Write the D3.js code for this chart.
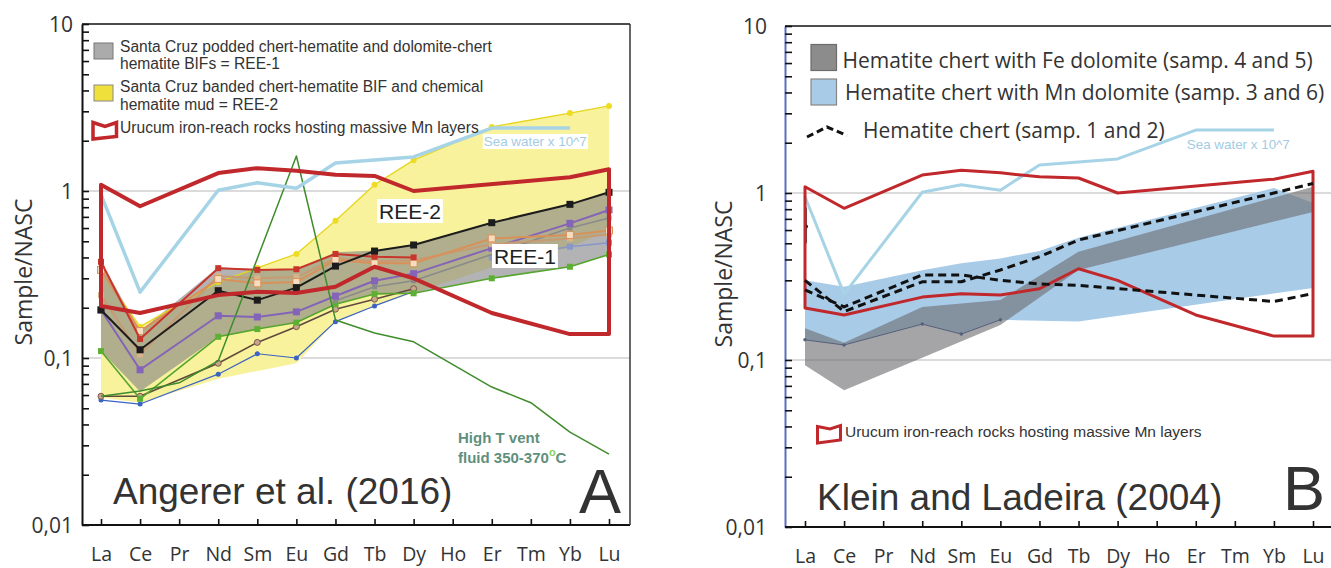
<!DOCTYPE html>
<html><head><meta charset="utf-8">
<script src="https://cdn.jsdelivr.net/npm/d3@7"></script>
<style>body{margin:0;background:#fff}svg{display:block}</style>
</head><body>
<svg id="c" width="1331" height="568"></svg>
<script>
// ---------------- DATA ----------------
const elements = ["La","Ce","Pr","Nd","Sm","Eu","Gd","Tb","Dy","Ho","Er","Tm","Yb","Lu"];
const yMajorTicks = [0.01, 0.1, 1, 10];
const yTickLabels = ["0,01", "0,1", "1", "10"];
const yMinorFactors = [2,3,4,5,6,7,8,9];

// shared (both panels)
const urucumUpper = [1.09, 0.81, null, 1.28, 1.37, 1.32, 1.25, 1.23, 1.0, null, null, null, 1.21, 1.35];
const urucumLower = [0.205, 0.186, null, 0.238, 0.249, 0.245, 0.267, 0.352, 0.30, null, 0.186, null, 0.139, 0.139];
const seaWater    = [0.95, 0.248, null, 1.01, 1.12, 1.04, 1.47, null, 1.6, null, 2.38, null, 2.38, null];

// panel A
const ventFluid = [0.059, 0.0635, 0.071, 0.096, null, 1.62, 0.169, 0.141, 0.125, null, 0.067, 0.054, 0.036, 0.0266];
const ree2Upper = [0.33, 0.154, null, 0.285, 0.346, 0.42, 0.664, 1.09, 1.53, null, 2.42, null, 2.93, 3.23];
const ree2Lower = [0.058, 0.054, null, 0.075, null, 0.093, 0.165, 0.205, 0.245, null, 0.35, null, 0.46, 0.58];
const ree1Upper = [0.38, 0.145, null, 0.35, 0.34, 0.34, 0.43, 0.44, 0.48, null, 0.646, null, 0.84, 0.99];
const ree1Lower = [0.11, 0.063, null, 0.134, 0.149, 0.163, 0.21, 0.242, 0.244, null, 0.30, null, 0.352, 0.417];
const sampleRed    = [0.377, 0.13, null, 0.345, 0.337, 0.34, 0.42, 0.404, 0.40, null, null, null, null, null];
const sampleOrange = [0.337, 0.145, null, 0.297, 0.28, 0.285, 0.386, 0.369, 0.369, null, 0.52, null, 0.545, 0.58];
const sampleTan    = [0.238, 0.105, null, 0.31, 0.30, 0.305, 0.395, 0.38, 0.385, null, 0.48, null, 0.52, 0.55];
const sampleBlack  = [0.194, 0.112, null, 0.253, 0.222, 0.264, 0.355, 0.437, 0.475, null, 0.646, null, 0.832, 0.982];
const samplePurple = [0.194, 0.085, null, 0.179, 0.176, 0.189, 0.235, 0.29, 0.32, null, 0.455, null, 0.64, 0.77];
const sampleGray   = [null, null, null, null, null, null, 0.22, 0.267, 0.29, null, null, null, 0.60, 0.69];
const sampleLilac  = [null, null, null, null, null, null, null, null, null, null, 0.40, null, 0.464, 0.49];
const sampleGreen  = [0.110, 0.057, null, 0.134, 0.149, 0.163, 0.21, 0.242, 0.244, null, 0.30, null, 0.352, 0.417];
const sampleBrown  = [0.059, 0.059, null, 0.093, 0.124, 0.154, 0.196, 0.225, 0.26, null, null, null, null, null];
const sampleBlue   = [0.056, 0.053, null, 0.080, 0.106, 0.100, 0.165, 0.205, 0.25, null, null, null, null, null];

// panel B
const feDolUpper  = [0.155, 0.127, null, 0.208, null, 0.229, null, 0.445, null, null, null, null, null, 1.09];
const feDolLower  = [0.093, 0.066, null, 0.103, null, 0.162, null, 0.346, null, null, null, null, null, 0.77];
const mnDolUpper  = [0.30, 0.275, null, 0.345, 0.38, 0.405, 0.45, 0.54, null, null, null, null, 1.07, 0.87];
const mnDolLower  = [0.132, 0.123, null, 0.164, 0.143, 0.174, null, 0.17, null, null, null, null, null, 0.27];
const feDolSample = [0.132, 0.123, null, 0.164, 0.143, 0.174, null, null, null, null, null, null, null, null];
const chert1      = [0.30, 0.195, null, 0.294, 0.294, 0.346, 0.415, 0.523, null, null, null, null, 1.0, 1.14];
const chert2      = [0.263, 0.208, null, 0.323, 0.323, 0.30, 0.285, 0.28, null, null, null, null, 0.224, 0.25];
const laSpur      = [0.82, 0.5];
const laSpurDot   = [0.63];

// ---------------- DRAW ----------------
const svg = d3.select("#c");
const FA = "'Liberation Sans', Arial, sans-serif";
const FO = "'Open Sans', sans-serif";
const RED = "#c0282c", SEA = "#a6d4e6";

function makePanel(p) {
  const x = d3.scalePoint().domain(elements).range(p.xr);
  const y = d3.scaleLog().domain([0.01, 10]).range([p.bottom, p.top]);
  const g = svg.append("g");
  const pts = arr => arr.map((v, i) => v == null ? null : [x(elements[i]), y(v)]).filter(d => d);
  const line = d3.line();
  return Object.assign({x, y, g, pts, line}, p);
}

function band(P, up, lo, fill, opacity, stroke) {
  const d = P.line(P.pts(up).concat(P.pts(lo).reverse())) + "Z";
  P.g.append("path").attr("d", d).attr("fill", fill).attr("fill-opacity", opacity)
    .attr("stroke", stroke || "none").attr("stroke-width", 0.8);
}
function series(P, arr, color, width, dash) {
  P.g.append("path").attr("d", P.line(P.pts(arr))).attr("fill", "none")
    .attr("stroke", color).attr("stroke-width", width).attr("stroke-linejoin", "round")
    .attr("stroke-dasharray", dash || null);
}
function markers(P, arr, shape, size, fill, stroke) {
  const sel = P.g.append("g").selectAll("x").data(P.pts(arr)).enter();
  if (shape === "sq") {
    sel.append("rect").attr("x", d => d[0] - size/2).attr("y", d => d[1] - size/2)
      .attr("width", size).attr("height", size).attr("fill", fill).attr("stroke", stroke || "none").attr("stroke-width", 1);
  } else {
    sel.append("circle").attr("cx", d => d[0]).attr("cy", d => d[1]).attr("r", size/2)
      .attr("fill", fill).attr("stroke", stroke || "none").attr("stroke-width", 1);
  }
}
function grid(P) {
  [1, 0.1].forEach(v => P.g.append("line").attr("x1", P.left).attr("x2", P.right)
    .attr("y1", P.y(v)).attr("y2", P.y(v)).attr("stroke", "#cfcfcf").attr("stroke-width", 1.5));
}
function frame(P) {
  const g = P.g;
  const allTicks = [];
  yMajorTicks.forEach(v => allTicks.push(v));
  [0.01, 0.1, 1].forEach(dec => yMinorFactors.forEach(f => allTicks.push(dec * f)));
  const ya = d3.axisLeft(P.y).tickValues(allTicks).tickSizeInner(-7).tickSizeOuter(0)
    .tickPadding(P.labelGap)
    .tickFormat(v => { const i = yMajorTicks.findIndex(m => Math.abs(m - v) < v * 1e-6); return i >= 0 ? yTickLabels[i] : ""; });
  const gy = g.append("g").attr("transform", `translate(${P.left},0)`).call(ya);
  gy.select(".domain").attr("stroke", P.yAxisColor).attr("stroke-width", 2);
  gy.selectAll(".tick line").attr("stroke", "#111").attr("stroke-width", 1.6);
  gy.selectAll(".tick text").attr("font-family", FO).attr("font-size", 21).attr("fill", "#333").attr("dy", "0.37em");

  const xa = d3.axisBottom(P.x).tickSizeInner(-6).tickSizeOuter(0).tickPadding(22);
  const gx = g.append("g").attr("transform", `translate(0,${P.bottom})`).call(xa);
  gx.select(".domain").attr("d", `M${P.left},0H${P.right}`).attr("stroke", "#111").attr("stroke-width", 2);
  gx.selectAll(".tick line").attr("stroke", "#111").attr("stroke-width", 1.6);
  gx.selectAll(".tick text").attr("font-family", FO).attr("font-size", 19.5).attr("fill", "#333").attr("dy", "0.71em");

  g.append("line").attr("x1", P.left).attr("x2", P.right).attr("y1", P.top).attr("y2", P.top)
    .attr("stroke", "#111").attr("stroke-width", 1.5);
  if (P.rightBorder) g.append("line").attr("x1", P.right).attr("x2", P.right).attr("y1", P.top).attr("y2", P.bottom)
    .attr("stroke", "#333").attr("stroke-width", 1.5);

  g.append("text").attr("transform", `translate(${P.titleX},${P.titleY}) rotate(-90)`)
    .attr("text-anchor", "middle").attr("font-family", FO).attr("font-size", 23).attr("fill", "#333").text("Sample/NASC");
}
function seaLabel(P, tx, ty) {
  const t = P.g.append("text").attr("x", tx).attr("y", ty).attr("font-family", FA).attr("font-size", 13.4)
    .attr("fill", "#a3cbe3").text("Sea water x 10^7");
  const b = t.node().getBBox();
  P.g.insert("rect", () => t.node()).attr("x", b.x - 1).attr("y", b.y).attr("width", b.width + 2).attr("height", b.height).attr("fill", "#fff");
}
function urucumIcon(g, pts, w) {
  g.append("path").attr("d", d3.line()(pts) + "Z").attr("fill", "none").attr("stroke", RED).attr("stroke-width", w).attr("stroke-linejoin", "miter");
}

// ======== Panel A ========
const A = makePanel({xr: [101, 609], top: 24, bottom: 525, left: 82, right: 630, labelGap: 9,
  yAxisColor: "#111", rightBorder: true, titleX: 32, titleY: 272});
grid(A);
band(A, ree2Upper, ree2Lower, "#f8f29c", 1);
band(A, ree1Upper, ree1Lower, "#808084", 0.6);
series(A, ree2Upper, "#e6d51c", 1.3);
markers(A, ree2Upper, "ci", 6, "#eedc22");
const aSamples = [
  {v: sampleBlue, c: "#3b63c4", w: 1.2, m: "ci", s: 5, f: "#3b63c4"},
  {v: sampleBrown, c: "#5e4a3c", w: 1.6, m: "ci", s: 6, f: "#c9a58c", st: "#7a5a48"},
  {v: sampleGreen, c: "#55a52e", w: 1.6, m: "sq", s: 6, f: "#5cb032"},
  {v: sampleLilac, c: "#8797c9", w: 1.6, m: "sq", s: 6, f: "#8797c9"},
  {v: sampleGray, c: "#8a8a8a", w: 1.6, m: "sq", s: 5, f: "#8a8a8a"},
  {v: samplePurple, c: "#8464b8", w: 2, m: "sq", s: 7, f: "#8464b8"},
  {v: sampleTan, c: "#c89a72", w: 2, m: "sq", s: 6, f: "#d9b48a"},
  {v: sampleOrange, c: "#d9915a", w: 2, m: "sq", s: 7, f: "#f4ddc0", st: "#d9915a"},
  {v: sampleRed, c: "#c8352b", w: 2, m: "sq", s: 6, f: "#c8352b"},
  {v: sampleBlack, c: "#1c1c1c", w: 2, m: "sq", s: 7, f: "#1c1c1c"}
];
aSamples.forEach(s => { series(A, s.v, s.c, s.w); markers(A, s.v, s.m, s.s, s.f, s.st); });
series(A, ventFluid, "#3e8c2c", 1.5);
series(A, seaWater, SEA, 3.5);
A.g.append("path").attr("d", A.line(A.pts(urucumUpper).concat(A.pts(urucumLower).reverse())) + "Z")
  .attr("fill", "none").attr("stroke", RED).attr("stroke-width", 4).attr("stroke-linejoin", "round");
seaLabel(A, A.x("Er") - 8, 146);
frame(A);

function boxLabel(P, txt, tx, ty) {
  const t = P.g.append("text").attr("x", tx).attr("y", ty).attr("font-family", FA).attr("font-size", 21)
    .attr("fill", "#222").text(txt);
  const b = t.node().getBBox();
  P.g.insert("rect", () => t.node()).attr("x", b.x - 2).attr("y", b.y - 1).attr("width", b.width + 4).attr("height", b.height + 1).attr("fill", "#fff");
}
boxLabel(A, "REE-2", 379, 219);
boxLabel(A, "REE-1", 494, 264);

const vt = A.g.append("text").attr("font-family", FA).attr("font-size", 15).attr("font-weight", "bold").attr("fill", "#5f8f7d");
vt.append("tspan").attr("x", 458).attr("y", 443).text("High T vent");
vt.append("tspan").attr("x", 458).attr("y", 463).text("fluid 350-370");
vt.append("tspan").attr("dy", -7).attr("font-size", 11).attr("fill", "#86cf5e").text("o");
vt.append("tspan").attr("dy", 7).text("C");

const lgA = A.g.append("g").attr("font-family", FA).attr("font-size", 15.6).attr("fill", "#333");
lgA.append("rect").attr("x", 94).attr("y", 43).attr("width", 19).attr("height", 16).attr("fill", "#ababab").attr("stroke", "#777");
lgA.append("rect").attr("x", 94).attr("y", 85).attr("width", 19).attr("height", 16).attr("fill", "#f0e03c").attr("stroke", "#888");
urucumIcon(lgA, [[93, 122.5], [105, 126.5], [116.5, 122.5], [116.5, 136.5], [93, 139]], 3.5);
[["Santa Cruz podded chert-hematite and dolomite-chert", 51.7], ["hematite BIFs = REE-1", 68.5],
 ["Santa Cruz banded chert-hematite BIF and chemical", 91.7], ["hematite mud = REE-2", 110],
 ["Urucum iron-reach rocks hosting massive Mn layers", 133.3]].forEach(([t, yy]) =>
  lgA.append("text").attr("x", 120).attr("y", yy).text(t));

A.g.append("text").attr("x", 113).attr("y", 504).attr("font-family", FA).attr("font-size", 37).attr("fill", "#333").text("Angerer et al. (2016)");
A.g.append("text").attr("x", 579).attr("y", 513).attr("font-family", FA).attr("font-size", 63).attr("fill", "#333").text("A");

// ======== Panel B ========
const B = makePanel({xr: [805, 1313], top: 26, bottom: 527, left: 785, right: 1331, labelGap: 18,
  yAxisColor: "#5a6ebd", rightBorder: false, titleX: 732, titleY: 274});
grid(B);
band(B, mnDolUpper, mnDolLower, "#a8cbe8", 1);
band(B, feDolUpper, feDolLower, "#6e6e72", 0.62);
series(B, feDolSample, "#55607a", 1);
markers(B, feDolSample, "ci", 3.5, "#55607a");
B.g.append("path").attr("d", d3.line()(laSpur.map(v => [B.x("La") + 1, B.y(v)])))
  .attr("stroke", "#111").attr("stroke-width", 1.5);
B.g.selectAll(".spurdot").data(laSpurDot).enter().append("circle")
  .attr("cx", B.x("La") + 1).attr("cy", v => B.y(v)).attr("r", 2).attr("fill", "#111");
series(B, seaWater, SEA, 3);
B.g.append("path").attr("d", B.line(B.pts(urucumUpper).concat(B.pts(urucumLower).reverse())) + "Z")
  .attr("fill", "none").attr("stroke", RED).attr("stroke-width", 3).attr("stroke-linejoin", "round");
series(B, chert1, "#111", 3, "8,5");
series(B, chert2, "#111", 3, "8,5");
seaLabel(B, B.x("Er") - 9, 149);
frame(B);

const lgB = B.g.append("g").attr("font-family", FO).attr("font-size", 21).attr("fill", "#333");
lgB.append("rect").attr("x", 811).attr("y", 44.5).attr("width", 25.5).attr("height", 26).attr("fill", "#8c8c8c").attr("stroke", "#6c6c6c").attr("stroke-width", 1.2);
lgB.append("rect").attr("x", 811).attr("y", 79).attr("width", 25.5).attr("height", 26).attr("fill", "#a8cbe8").attr("stroke", "#888").attr("stroke-width", 1.2);
lgB.append("path").attr("d", d3.line()([[807, 137], [827, 127], [847, 135.5]])).attr("fill", "none")
  .attr("stroke", "#111").attr("stroke-width", 3).attr("stroke-dasharray", "7,4");
lgB.append("text").attr("x", 842.5).attr("y", 68).text("Hematite chert with Fe dolomite (samp. 4 and 5)");
lgB.append("text").attr("x", 845).attr("y", 99.5).text("Hematite chert with Mn dolomite (samp. 3 and 6)");
lgB.append("text").attr("x", 863).attr("y", 138).text("Hematite chert (samp. 1 and 2)");
urucumIcon(B.g, [[817.5, 426.5], [830, 429], [840.5, 425.5], [840.5, 440], [817.5, 443]], 3);
B.g.append("text").attr("x", 845).attr("y", 436.5).attr("font-family", FA).attr("font-size", 15.5).attr("fill", "#333")
  .text("Urucum iron-reach rocks hosting massive Mn layers");

B.g.append("text").attr("x", 817).attr("y", 510).attr("font-family", FA).attr("font-size", 37).attr("fill", "#333").text("Klein and Ladeira (2004)");
B.g.append("text").attr("x", 1283).attr("y", 510).attr("font-family", FA).attr("font-size", 63).attr("fill", "#333").text("B");
</script>
</body></html>
